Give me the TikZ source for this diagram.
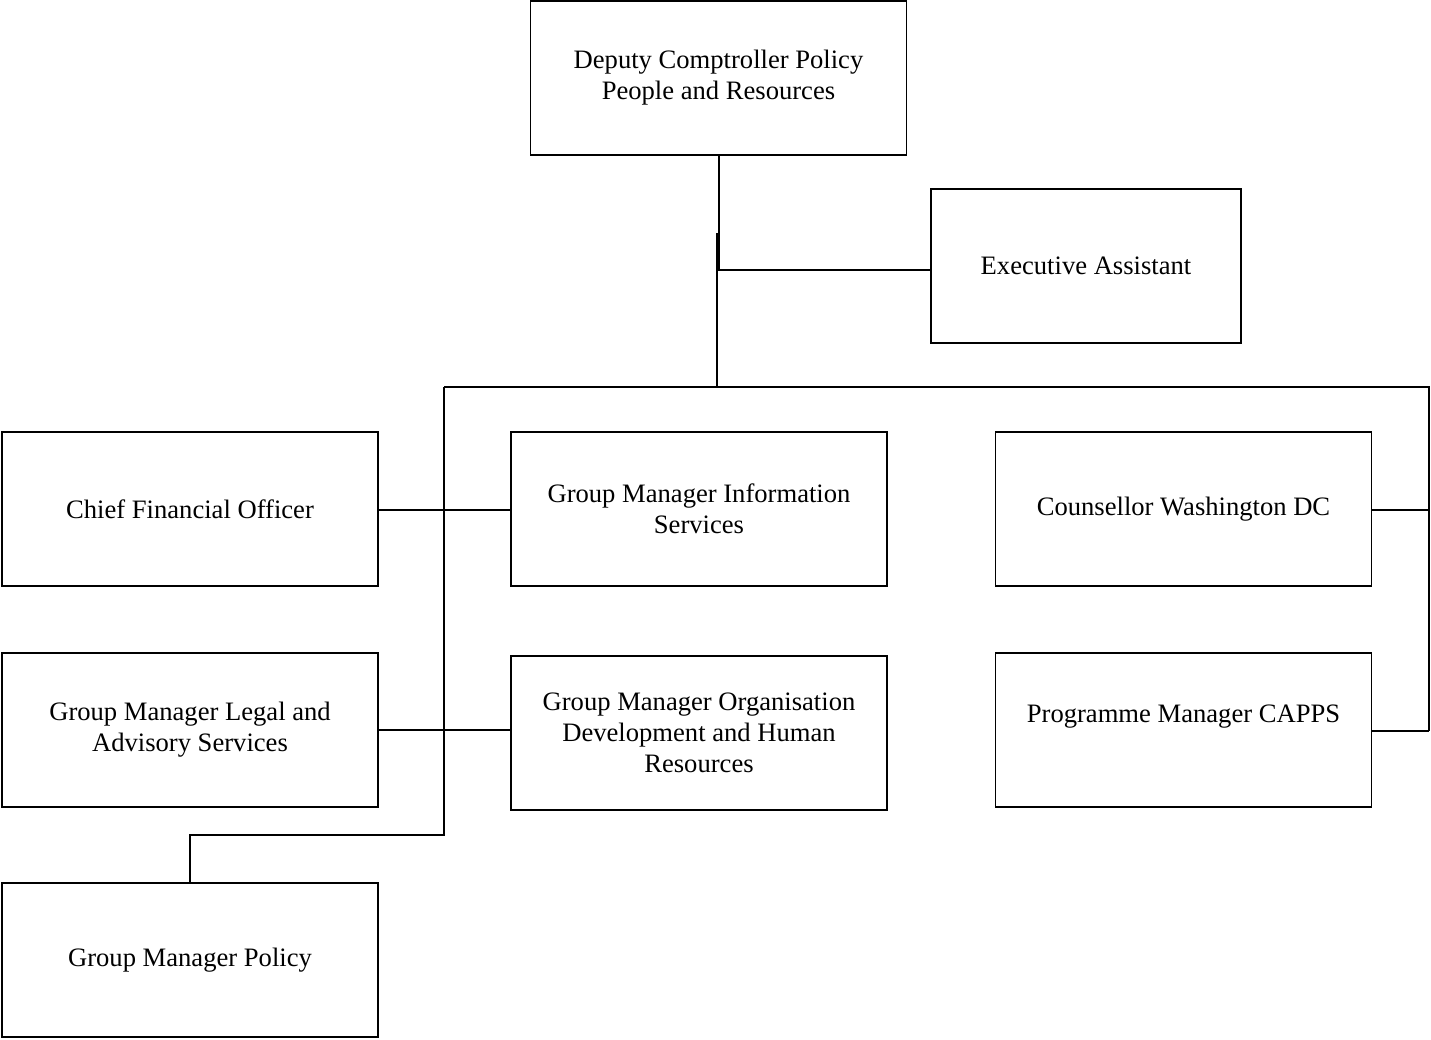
\documentclass[tikz,border=0pt]{standalone}
\usepackage{fontspec}
\setmainfont{Liberation Serif}
\begin{document}
\begin{tikzpicture}[x=1pt,y=-1pt,
  unit/.style={draw,line width=1.8pt,minimum width=376pt,minimum height=154pt,
    inner sep=0pt,align=center,font=\fontsize{26.6}{30.8}\selectfont},
  link/.style={line width=1.8pt}]
\useasboundingbox (0,0) rectangle (1431,1039);

% boxes
\node[unit] (top) at (718.5,78) {Deputy Comptroller Policy\\People and Resources};
\node[unit,minimum width=310pt] (exec) at (1086,266) {Executive Assistant};
\node[unit] (cfo) at (190,509) {Chief Financial Officer};
\node[unit] (gmis) at (699,509) {Group Manager Information\\Services};
\node[unit] (cwdc) at (1183.5,509) {Counsellor Washington DC};
\node[unit] (legal) at (190,730) {Group Manager Legal and\\Advisory Services};
\node[unit] (orgdev) at (699,733) {Group Manager Organisation\\Development and Human\\Resources};
\node[unit] (capps) at (1183.5,730) {};
\node[font=\fontsize{26.6}{30.8}\selectfont] (cappstext) at ([yshift=13pt]capps.center) {Programme Manager CAPPS};
\node[unit] (policy) at (190,960) {Group Manager Policy};

% junction points of the connector lines
\coordinate (eaj) at (719,270);
\coordinate (stub) at (717,233);
\coordinate (busmid) at (717,387);
\coordinate (busl) at (444,387);
\coordinate (busr) at (1429,387);
\coordinate (lowl) at (444,835);
\coordinate (polj) at (190,835);
\coordinate (rowa) at (444,510);
\coordinate (rowb) at (444,730);
\coordinate (ra) at (1429,510);
\coordinate (rb) at (1429,731);

% connectors
\draw[link] (top.south -| eaj) -- (eaj) -- (exec.west |- eaj);
\draw[link] (stub) -- (busmid);
\draw[link] (busl) -- (busr) -- (rb);
\draw[link] (busl) -- (lowl) -- (polj) -- (policy.north);
\draw[link] (cfo.east |- rowa) -- (gmis.west |- rowa);
\draw[link] (legal.east |- rowb) -- (orgdev.west |- rowb);
\draw[link] (cwdc.east |- ra) -- (ra);
\draw[link] (capps.east |- rb) -- (rb);
\end{tikzpicture}
\end{document}
